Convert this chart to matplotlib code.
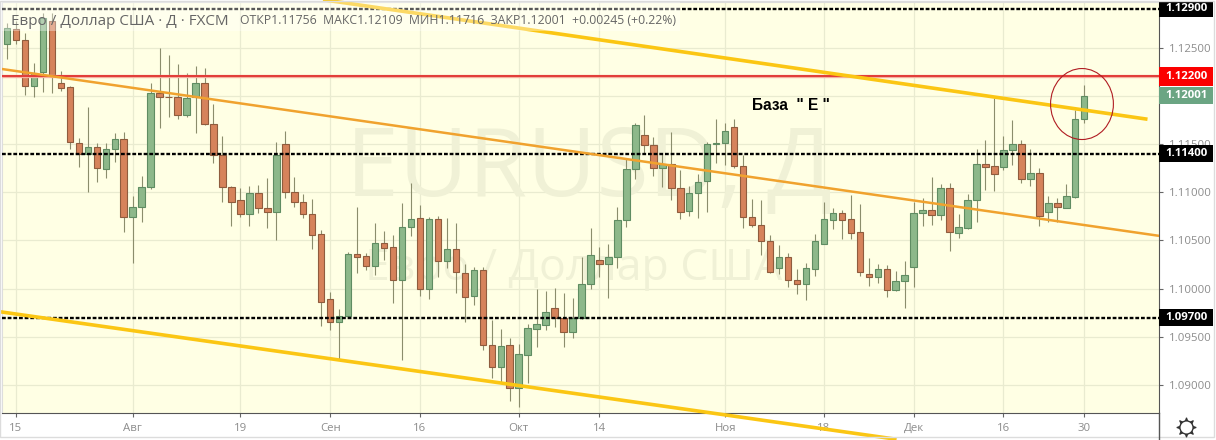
#EURUSD daily candles with channel lines and levels

import matplotlib
matplotlib.use('Agg')
import matplotlib.pyplot as plt
from matplotlib.patches import Ellipse, Rectangle
from matplotlib.transforms import blended_transform_factory

plt.rcParams['font.family'] = ['Open Sans', 'DejaVu Sans']

opens = [1.12533, 1.12689, 1.12575, 1.12098, 1.12243, 1.12779, 1.12129, 1.12087, 1.11513, 1.11396,
         1.11465, 1.11237, 1.11444, 1.11548, 1.10739, 1.10843, 1.11057, 1.12025, 1.11987, 1.11984,
         1.11797, 1.11984, 1.12129, 1.11704, 1.11385, 1.11057, 1.10915, 1.10770, 1.10988, 1.10832,
         1.10791, 1.11496, 1.10998, 1.10895, 1.10770, 1.10563, 1.09889, 1.09657, 1.09719, 1.10355,
         1.10338, 1.10238, 1.10469, 1.10428, 1.10089, 1.10635, 1.10729, 1.09992, 1.10718, 1.10290,
         1.10407, 1.10158, 1.09920, 1.10189, 1.09418, 1.09190, 1.09412, 1.08966, 1.09315, 1.09584,
         1.09626, 1.09795, 1.09695, 1.09553, 1.09692, 1.10044, 1.10293, 1.10252, 1.10324, 1.10708,
         1.11237, 1.11589, 1.11486, 1.11247, 1.11296, 1.11040, 1.10801, 1.10988, 1.11112, 1.11496,
         1.11506, 1.11672, 1.11275, 1.10739, 1.10656, 1.10490, 1.10217, 1.10324, 1.10086, 1.10051,
         1.10207, 1.10466, 1.10715, 1.10781, 1.10718, 1.10583, 1.10148, 1.10124, 1.10200, 1.09989,
         1.10075, 1.10227, 1.10781, 1.10812, 1.10767, 1.11040, 1.10573, 1.10632, 1.10915, 1.11289,
         1.11268, 1.11258, 1.11434, 1.11496, 1.11133, 1.11195, 1.10798, 1.10884, 1.10839, 1.10953,
         1.11756]
highs = [1.12758, 1.12779, 1.12647, 1.12336, 1.12855, 1.12855, 1.12257, 1.12101, 1.11558, 1.11887,
         1.11506, 1.11506, 1.11610, 1.11627, 1.10960, 1.11168, 1.12129, 1.12492, 1.12423, 1.12329,
         1.12232, 1.12309, 1.12284, 1.11914, 1.11583, 1.11064, 1.11040, 1.11064, 1.11074, 1.11144,
         1.11524, 1.11634, 1.11154, 1.10978, 1.10926, 1.10608, 1.09965, 1.09788, 1.10376, 1.10850,
         1.10366, 1.10677, 1.10597, 1.10556, 1.10884, 1.11092, 1.10867, 1.10746, 1.10753, 1.10729,
         1.10677, 1.10255, 1.10227, 1.10220, 1.09674, 1.09581, 1.09484, 1.09425, 1.09633, 1.09992,
         1.09975, 1.10003, 1.09951, 1.09899, 1.10331, 1.10632, 1.10428, 1.10462, 1.10850, 1.11351,
         1.11714, 1.11800, 1.11569, 1.11396, 1.11624, 1.11230, 1.11064, 1.11188, 1.11517, 1.11759,
         1.11714, 1.11759, 1.11385, 1.10929, 1.10919, 1.10556, 1.10452, 1.10366, 1.10200, 1.10269,
         1.10566, 1.10895, 1.10832, 1.10815, 1.10971, 1.10877, 1.10314, 1.10255, 1.10245, 1.10186,
         1.10286, 1.10902, 1.10936, 1.11154, 1.11085, 1.11091, 1.10774, 1.10978, 1.11448, 1.11541,
         1.11973, 1.11583, 1.11748, 1.11541, 1.11448, 1.11247, 1.10960, 1.10936, 1.11085, 1.11852,
         1.12109]
lows = [1.12378, 1.12533, 1.12008, 1.11990, 1.12042, 1.12032, 1.12053, 1.11448, 1.11264, 1.11005,
        1.11109, 1.11144, 1.11316, 1.10590, 1.10262, 1.10694, 1.11033, 1.11669, 1.11783, 1.11762,
        1.11776, 1.11617, 1.11697, 1.11306, 1.10902, 1.10649, 1.10746, 1.10649, 1.10787, 1.10625,
        1.10504, 1.10936, 1.10850, 1.10729, 1.10411, 1.09612, 1.09571, 1.09266, 1.09709, 1.10158,
        1.10193, 1.10141, 1.10297, 1.09847, 1.09259, 1.10545, 1.09927, 1.09892, 1.10124, 1.10210,
        1.09958, 1.09657, 1.09830, 1.09363, 1.09069, 1.09028, 1.08838, 1.08775, 1.09017, 1.09398,
        1.09571, 1.09605, 1.09398, 1.09484, 1.09685, 1.09996, 1.10124, 1.09906, 1.10217, 1.10642,
        1.11140, 1.11403, 1.11171, 1.11057, 1.10919, 1.10725, 1.10756, 1.10729, 1.10798, 1.11299,
        1.11282, 1.11247, 1.10632, 1.10642, 1.10348, 1.10158, 1.10151, 1.10020, 1.09944, 1.09882,
        1.10131, 1.10459, 1.10615, 1.10514, 1.10514, 1.10131, 1.10027, 1.10061, 1.09916, 1.09978,
        1.09802, 1.10020, 1.10649, 1.10660, 1.10711, 1.10393, 1.10528, 1.10618, 1.10694, 1.11023,
        1.11016, 1.11226, 1.11282, 1.11099, 1.11067, 1.10653, 1.10694, 1.10694, 1.10832, 1.10936,
        1.11716]
closes = [1.12699, 1.12575, 1.12098, 1.12239, 1.12803, 1.12205, 1.12084, 1.11517, 1.11392, 1.11465,
          1.11247, 1.11444, 1.11548, 1.10739, 1.10843, 1.11057, 1.12025, 1.11984, 1.11984, 1.11797,
          1.11973, 1.12129, 1.11704, 1.11385, 1.11057, 1.10895, 1.10770, 1.10988, 1.10832, 1.10791,
          1.11385, 1.10998, 1.10895, 1.10770, 1.10559, 1.09864, 1.09657, 1.09719, 1.10355, 1.10331,
          1.10238, 1.10469, 1.10424, 1.10089, 1.10635, 1.10718, 1.09992, 1.10718, 1.10290, 1.10407,
          1.10169, 1.09916, 1.10189, 1.09418, 1.09190, 1.09401, 1.08966, 1.09318, 1.09588, 1.09629,
          1.09754, 1.09695, 1.09553, 1.09695, 1.10044, 1.10345, 1.10252, 1.10324, 1.10708, 1.11237,
          1.11693, 1.11486, 1.11247, 1.11296, 1.11040, 1.10791, 1.10988, 1.11109, 1.11496, 1.11506,
          1.11638, 1.11275, 1.10739, 1.10656, 1.10490, 1.10169, 1.10324, 1.10086, 1.10051, 1.10210,
          1.10490, 1.10718, 1.10781, 1.10715, 1.10580, 1.10176, 1.10124, 1.10200, 1.09989, 1.10075,
          1.10144, 1.10781, 1.10812, 1.10767, 1.11040, 1.10590, 1.10635, 1.10915, 1.11289, 1.11264,
          1.11185, 1.11434, 1.11496, 1.11133, 1.11195, 1.10756, 1.10884, 1.10843, 1.10957, 1.11755,
          1.12001]

tick_pos = [1, 14, 26, 36, 46, 57, 66, 80, 91, 101, 111, 120]
tick_labels = ['15', 'Авг', '19', 'Сен', '16', 'Окт', '14', 'Ноя', '18', 'Дек', '16', '30']
price_ticks = [1.09, 1.095, 1.10, 1.105, 1.11, 1.115, 1.12, 1.125]

black_levels = [1.129, 1.114, 1.097]
red_level = 1.122
last_price = 1.12001

# channel lines as (bar index, price) ends
orange_x = [-0.56, 128.2]
orange_y = [1.12277, 1.10549]
upper_x = [35.4, 126.85]
upper_y = [1.12993, 1.11759]
lower_x = [-0.56, 98.9]
lower_y = [1.09757, 1.08440]

BG = '#ffffe4'
GRID = '#e9ebd0'
WATERMARK = '#f0f1d6'
UP_FILL, UP_EDGE = '#8db88a', '#5f8c62'
DOWN_FILL, DOWN_EDGE = '#d6835b', '#8f5c3e'
WICK = '#8b8d6c'
TEXT_GREY = '#8c8c8c'

fig = plt.figure(figsize=(12.16, 4.4), dpi=100, facecolor='white')
ax = fig.add_axes([2/1216, 27/440, 1157/1216, 411/440], facecolor=BG)
ax.set_xlim(-0.56, 128.33)
ax.set_ylim(1.08710, 1.12972)

ax.set_xticks(tick_pos)
ax.set_xticklabels(tick_labels)
ax.set_yticks(price_ticks)
ax.set_yticklabels(['%.5f' % p for p in price_ticks])
ax.yaxis.tick_right()
ax.tick_params(axis='both', colors='#666666', labelcolor=TEXT_GREY, labelsize=8.2, length=3, width=0.8)
ax.tick_params(axis='x', pad=4)
ax.tick_params(axis='y', pad=4)
ax.grid(True, color=GRID, linewidth=0.9)
ax.set_axisbelow(True)
for side in ['left', 'top']:
    ax.spines[side].set_color('#dddddd')
for side in ['right', 'bottom']:
    ax.spines[side].set_color('#555555')

# watermarks, under the candles
ax.text(346/1216, 1-196/440, 'EURUSD, Д', transform=fig.transFigure, fontsize=68.6,
        color=WATERMARK, zorder=1, va='baseline', clip_on=True)
ax.text(365/1216, 1-280/440, 'Евро / Доллар США', transform=fig.transFigure, fontsize=32,
        color=WATERMARK, zorder=1, va='baseline', clip_on=True)

# candles
for i in range(len(opens)):
    up = closes[i] >= opens[i]
    ax.vlines(i, lows[i], highs[i], color=WICK, linewidth=0.8, zorder=3)
    ax.bar(i, abs(closes[i]-opens[i]), bottom=min(opens[i], closes[i]), width=0.72,
           color=UP_FILL if up else DOWN_FILL, edgecolor=UP_EDGE if up else DOWN_EDGE,
           linewidth=0.8, zorder=3)

# levels
for lev in black_levels:
    ax.axhline(lev, color='black', linewidth=1.7, linestyle=(0, (1.6, 0.8)), zorder=4)
ax.axhline(red_level, color='#f4b0a0', linewidth=2.4, zorder=4)
ax.axhline(red_level, color='#dd1c1c', linewidth=1.1, zorder=4)

# channel
ax.plot(orange_x, orange_y, color='#f0a22e', linewidth=1.8, zorder=5)
ax.plot(upper_x, upper_y, color='#fbc613', linewidth=2.6, zorder=5, clip_on=False)
ax.plot(lower_x, lower_y, color='#fbc613', linewidth=2.6, zorder=5, clip_on=False)

ax.add_patch(Ellipse((119.75, 1.11914), 7.0, 0.00736, fill=False, edgecolor='#b01c22', linewidth=0.8, zorder=6))
ax.text(83.0, 1.11852, 'База  " Е "', fontsize=11.2, fontweight='bold', family=['Liberation Sans'], color='black', zorder=6)

# header
ax.add_patch(Rectangle((0, 0.930), 0.586, 0.07, transform=ax.transAxes, facecolor='#ffffff', alpha=0.35, edgecolor='none', zorder=6))
fig.text(11/1216, 1-25/440, 'Евро / Доллар США · Д · FXCM', fontsize=11, color='#666666', zorder=7, va='baseline')
fig.text(240/1216, 1-24/440, 'ОТКР1.11756  МАКС1.12109  МИН1.11716  ЗАКР1.12001  +0.00245 (+0.22%)',
         fontsize=8.8, color='#666666', zorder=7, va='baseline')

# price tags on the right
trans = blended_transform_factory(ax.transAxes, ax.transData)
def price_tag(price, box, h=0.00176):
    ax.add_patch(Rectangle((1.0, price-h/2), 54/1157, h, transform=trans, facecolor=box,
                           edgecolor='none', clip_on=False, zorder=8))
    ax.text(1.0+27/1157, price, '%.5f' % price, transform=trans, color='white', fontsize=8.2,
            fontweight='bold', ha='center', va='center', clip_on=False, zorder=9)

for lev in black_levels:
    price_tag(lev, 'black', 0.0017)
price_tag(red_level, '#fb0000', 0.00195)
price_tag(last_price, '#6ba583', 0.0017)

# settings icon and frame
fig.add_artist(plt.Line2D([1159/1216, 1159/1216], [0, 27/440], color='#555555', linewidth=1))
fig.add_artist(plt.Line2D([1186/1216], [1-427/440], marker=(8, 1, 0), markersize=14, color='#333333', markeredgewidth=0.8))
fig.add_artist(plt.Line2D([1186/1216], [1-427/440], marker='o', markersize=9.5, markerfacecolor='white', markeredgecolor='#333333', markeredgewidth=1))
fig.add_artist(Rectangle((0, 3/440), 1214/1216, 436/440, transform=fig.transFigure, fill=False, edgecolor='#dcdcdc', linewidth=1))

fig.savefig('out.png', dpi=100)
